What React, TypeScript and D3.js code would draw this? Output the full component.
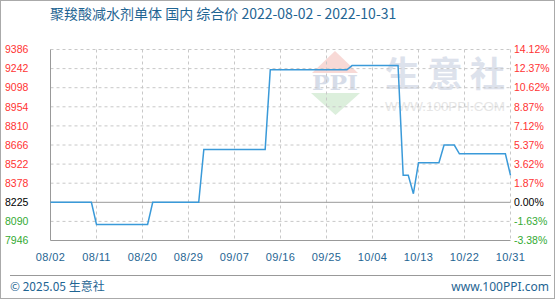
import React from "react";
import * as d3 from "d3";

// Daily composite price, 2022-08-02 .. 2022-10-31 (yuan/ton)
const startDate = "2022-08-02";
const prices: number[] = [
  8225, 8225, 8225, 8225, 8225, 8225, 8225, 8225, 8225,
  8067, 8067, 8067, 8067, 8067, 8067, 8067, 8067, 8067, 8067, 8067,
  8225, 8225, 8225, 8225, 8225, 8225, 8225, 8225, 8225, 8225,
  8633, 8633, 8633, 8633, 8633, 8633, 8633, 8633, 8633, 8633, 8633, 8633, 8633,
  9233, 9233, 9233, 9233, 9233, 9233, 9233, 9233, 9233, 9233, 9233, 9233, 9233, 9233, 9233, 9233,
  9265, 9265, 9265, 9265, 9265, 9265, 9265, 9265, 9265, 9265,
  8437, 8437,
  8294,
  8533, 8533, 8533, 8533, 8533,
  8666, 8666, 8666,
  8600, 8600, 8600, 8600, 8600, 8600, 8600, 8600, 8600, 8600,
  8437,
];

// Left axis price levels (bottom to top) and matching change vs. base
const priceTicks = [7946, 8090, 8225, 8378, 8522, 8666, 8810, 8954, 9098, 9242, 9386];
const pctTicks = ["-3.38%", "-1.63%", "0.00%", "1.87%", "3.62%", "5.37%", "7.12%", "8.87%", "10.62%", "12.37%", "14.12%"];
const basePrice = 8225;

const dateTicks = ["08/02", "08/11", "08/20", "08/29", "09/07", "09/16", "09/25", "10/04", "10/13", "10/22", "10/31"];

const title = "聚羧酸减水剂单体 国内 综合价 2022-08-02 - 2022-10-31";

const W = 560;
const H = 300;
const left = 50.5;
const right = 510.5;
const top = 49.5;
const bottom = 240.5;

const RED = "#ff3333";
const GREEN = "#33aa33";
const BLUE_TEXT = "#1f6593";
const GRID = "#c8c8c8";
const AXIS = "#999999";
const LINE = "#3a9ad9";

const parse = d3.timeParse("%Y-%m-%d");

export default function App() {
  const t0 = parse(startDate) as Date;
  const dates = prices.map((_, i) => d3.timeDay.offset(t0, i));
  const x = d3.scaleTime().domain([dates[0], dates[dates.length - 1]]).range([left, right]);

  const step = (bottom - top) / (priceTicks.length - 1);
  const y = d3
    .scaleLinear()
    .domain(priceTicks)
    .range(priceTicks.map((_, i) => bottom - i * step));

  const line = d3
    .line<number>()
    .x((_, i) => x(dates[i]))
    .y((d) => y(d));

  const tickDates = dateTicks.map((_, i) => d3.timeDay.offset(t0, i * 9));

  const colorFor = (v: number) => (v > basePrice ? RED : v < basePrice ? GREEN : "#000");
  const labelFont = "'Liberation Sans', Arial, sans-serif";

  return (
    <svg width={W} height={H} style={{ position: "absolute", left: 0, top: 0, background: "#fff" }}>
      <rect x={0.5} y={0.5} width={554} height={298} fill="#fff" stroke="#aaa" />

      {/* watermark */}
      <g>
        <polygon points="335,51 312,73 358,73" fill="#f8d9d6" />
        <polygon points="311,93 360,93 335.5,115" fill="#dcefdc" />
        <text x={335} y={90} textAnchor="middle" fontFamily="'DejaVu Serif', serif" fontWeight="bold" fontSize={20} fill="#d6dce8" textLength={46} lengthAdjust="spacingAndGlyphs">PPI</text>
        <text x={445} y={87} textAnchor="middle" fontFamily="'Noto Sans CJK SC', sans-serif" fontWeight="bold" fontSize={35} fill="#dde2ec" textLength={120} lengthAdjust="spacing">生意社</text>
        <text x={445} y={111} textAnchor="middle" fontFamily={labelFont} fontSize={12} fill="#e6e6e6" textLength={120} lengthAdjust="spacingAndGlyphs">WWW.100PPI.COM</text>
      </g>

      {/* horizontal grid */}
      {priceTicks.map((v, i) => {
        const yy = y(v);
        if (v === basePrice || i === 0) return null;
        return <line key={"h" + i} x1={left} x2={right} y1={yy} y2={yy} stroke={GRID} strokeDasharray="3,3" />;
      })}
      {/* vertical grid */}
      {tickDates.map((d, i) => (
        i === 0 ? null : <line key={"v" + i} x1={x(d)} x2={x(d)} y1={top} y2={bottom} stroke={GRID} strokeDasharray="3,3" />
      ))}
      <line x1={left} x2={right} y1={y(basePrice)} y2={y(basePrice)} stroke={AXIS} />
      <line x1={left} x2={left} y1={top} y2={bottom} stroke={AXIS} />
      <line x1={left} x2={right} y1={bottom} y2={bottom} stroke={AXIS} />

      <path d={line(prices) ?? ""} fill="none" stroke={LINE} strokeWidth={1.5} />

      {/* left axis labels */}
      {priceTicks.map((v, i) => (
        <text key={"l" + i} x={5} y={y(v)} dy="0.36em" fontFamily={labelFont} fontSize={10.5} fill={colorFor(v)}>
          {v}
        </text>
      ))}
      {/* right axis labels */}
      {pctTicks.map((p, i) => (
        <text key={"r" + i} x={514} y={y(priceTicks[i])} dy="0.36em" fontFamily={labelFont} fontSize={10.5} fill={colorFor(priceTicks[i])}>
          {p}
        </text>
      ))}
      {/* bottom axis labels */}
      {tickDates.map((d, i) => (
        <text key={"x" + i} x={x(d)} y={261} textAnchor="middle" fontFamily={labelFont} fontSize={11} fill={BLUE_TEXT} letterSpacing={0.4}>
          {dateTicks[i]}
        </text>
      ))}

      <text x={50} y={19} fontFamily="'Noto Sans CJK SC', sans-serif" fontSize={14} fill={BLUE_TEXT}>
        {title}
      </text>

      <line x1={10} x2={551} y1={275.5} y2={275.5} stroke={AXIS} />
      <text x={10} y={291} fontFamily="'Noto Sans CJK SC', sans-serif" fontSize={12} fill={BLUE_TEXT}>
        © 2025.05 生意社
      </text>
      <text x={549} y={291} textAnchor="end" fontFamily="'Noto Sans', sans-serif" fontSize={12} fill={BLUE_TEXT}>
        www.100PPI.com
      </text>
    </svg>
  );
}
